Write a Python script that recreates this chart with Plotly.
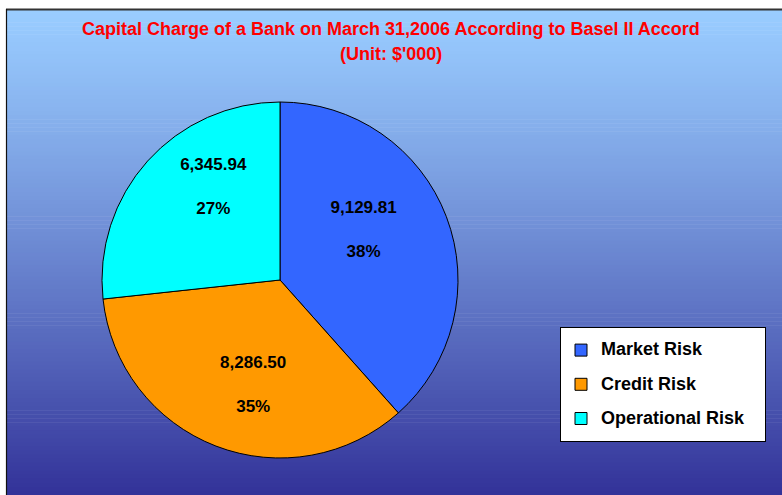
import plotly.graph_objects as go

labels = ["Market Risk", "Credit Risk", "Operational Risk"]
values = [9129.81, 8286.50, 6345.94]
colors = ["#3366FF", "#FF9900", "#00FFFF"]
title_line1 = "Capital Charge of a Bank on March 31,2006 According to Basel II Accord"
title_line2 = "(Unit: $'000)"

W, H = 782, 495
FONT = "Arial, Liberation Sans, sans-serif"

# per-slice label layout: invisible padding nudges each label inside its slice
def sp(px):
    return "<span style='font-size:%dpx'>&nbsp;</span>" % px

VAL, PCT = "%{value:,.2f}", "%{percent:.0%}"
templates = [
    VAL + "&nbsp;<br><br>" + PCT + "&nbsp;<br>" + sp(78),
    sp(29) + "<br>" + "&nbsp;" * 3 + VAL + "<br><br>" + "&nbsp;" * 3 + PCT,
    "&nbsp;" * 4 + VAL + "<br><br>" + "&nbsp;" * 4 + PCT + "<br>&nbsp;<br>" + sp(49),
]

fig = go.Figure()
fig.add_trace(go.Pie(
    labels=["<span style='font-size:18px;baseline-shift:4px'>%s&nbsp;&nbsp;&nbsp;</span>" % l
            for l in labels],
    values=values,
    sort=False,
    direction="clockwise",
    rotation=0,
    marker=dict(colors=colors, line=dict(color="black", width=1)),
    texttemplate=templates,
    textposition="inside",
    insidetextorientation="horizontal",
    textfont=dict(family=FONT, size=17, color="black", weight="bold"),
    domain=dict(x=[102 / W, 458 / W], y=[1 - 458 / H, 1 - 102 / H]),
    hoverinfo="value+percent",
))

# vertical gradient background (decoration)
top = (153, 204, 255)
bot = (51, 51, 153)
y0, y1 = 10, H
n = 120
shapes = []
for i in range(n):
    t = (i / (n - 1)) ** 1.15
    c = tuple(int(round(top[k] + (bot[k] - top[k]) * t)) for k in range(3))
    ya = y0 + (y1 - y0) * i / n
    yb = y0 + (y1 - y0) * (i + 1) / n + 0.6
    shapes.append(dict(type="rect", xref="paper", yref="paper",
                       x0=6 / W, x1=1.01, y0=1 - yb / H, y1=1 - ya / H,
                       fillcolor="rgb(%d,%d,%d)" % c, line=dict(width=0), layer="below"))
# frame lines
shapes.append(dict(type="line", xref="paper", yref="paper", x0=6 / W, x1=1.01,
                   y0=1 - 9.5 / H, y1=1 - 9.5 / H, line=dict(color="#333333", width=2), layer="below"))
shapes.append(dict(type="line", xref="paper", yref="paper", x0=6.5 / W, x1=6.5 / W,
                   y0=-0.01, y1=1 - 9 / H, line=dict(color="#111111", width=1.2), layer="below"))

title_font = dict(family=FONT, size=18, color="#FF0000", weight="bold")
annotations = [
    dict(text=title_line1, x=0.5, y=1 - 29 / H, xref="paper", yref="paper",
         xanchor="center", yanchor="middle", showarrow=False, font=title_font),
    dict(text=title_line2, x=0.5, y=1 - 54 / H, xref="paper", yref="paper",
         xanchor="center", yanchor="middle", showarrow=False, font=title_font),
]

fig.update_layout(
    width=W, height=H,
    margin=dict(l=0, r=0, t=0, b=0),
    paper_bgcolor="white",
    plot_bgcolor="rgba(0,0,0,0)",
    shapes=shapes,
    annotations=annotations,
    legend=dict(x=560 / W, xanchor="left", y=1 - 327 / H, yanchor="top",
                bgcolor="white", bordercolor="black", borderwidth=1,
                font=dict(family=FONT, size=24, color="black", weight="bold")),
    showlegend=True,
)

fig.write_html("out.html")
